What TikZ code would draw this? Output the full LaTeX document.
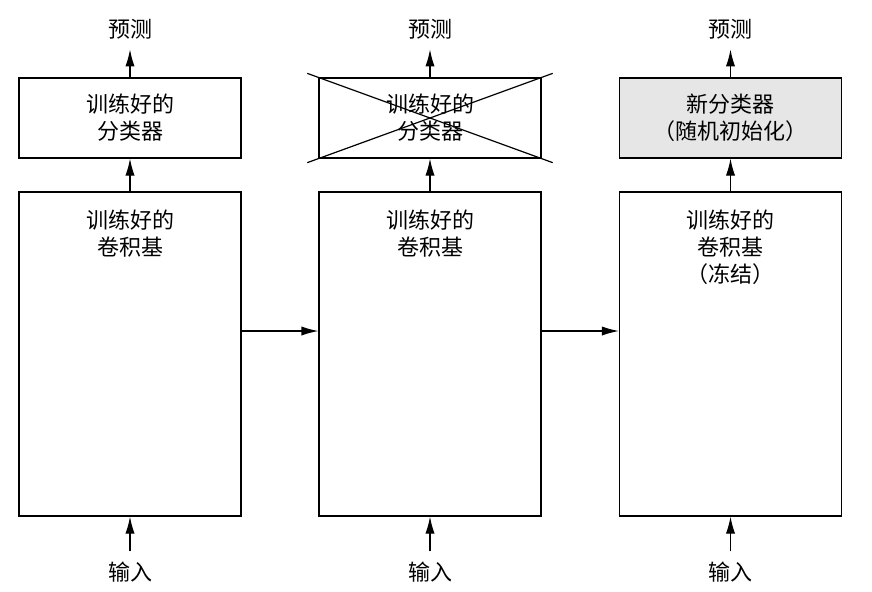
\documentclass[tikz,border=0pt]{standalone}
\usepackage{fontspec}
\newfontfamily\cjk{Noto Sans CJK SC}
\usetikzlibrary{arrows.meta,calc}
\definecolor{boxgray}{RGB}{230,230,230}
\begin{document}
\begin{tikzpicture}[x=0.5pt,y=-0.5pt,
  txt/.style={font=\cjk\fontsize{11}{13.5}\selectfont,align=center},
  box/.style={draw,line width=0.6pt,minimum width=111pt,inner sep=0pt},
  clsbox/.style={box,txt,minimum height=40pt},
  convbox/.style={box,minimum height=162pt},
  lbl/.style={txt,inner sep=5pt},
  arr/.style={-{Latex[length=8.5pt,width=4.6pt]},line width=0.6pt},
  xline/.style={line width=0.6pt}]
\useasboundingbox (0,0) rectangle (872,591);
% column 1
\node[clsbox] (k1) at (130,118) {训练好的\\分类器};
\node[convbox] (c1) at (130,354) {};
\node[txt] (t1) at (130,233.5) {训练好的\\卷积基};
\node[lbl] (p1) at (130,29) {预测};
\node[lbl] (i1) at (130,572) {输入};
% column 2
\node[clsbox] (k2) at (430,118) {训练好的\\分类器};
\node[convbox] (c2) at (430,354) {};
\node[txt] (t2) at (430,233.5) {训练好的\\卷积基};
\node[lbl] (p2) at (430,29) {预测};
\node[lbl] (i2) at (430,572) {输入};
% column 3
\node[clsbox,fill=boxgray] (k3) at (730.5,118) {新分类器\\（随机初始化）};
\node[convbox] (c3) at (730.5,354) {};
\node[txt] (t3) at (730.5,247) {训练好的\\卷积基\\（冻结）};
\node[lbl] (p3) at (730.5,29) {预测};
\node[lbl] (i3) at (730.5,572) {输入};
% cross
\draw[xline] ($(k2.north west)!-0.05!(k2.south east)$) -- ($(k2.south east)!-0.05!(k2.north west)$);
\draw[xline] ($(k2.south west)!-0.05!(k2.north east)$) -- ($(k2.north east)!-0.05!(k2.south west)$);
% arrows
\foreach \n in {1,2,3}{
  \draw[arr] (k\n) -- (p\n);
  \draw[arr] (c\n) -- (k\n);
  \draw[arr] (i\n) -- (c\n);
}
\draw[arr] ([yshift=11.5pt]c1.east) -- ([yshift=11.5pt]c2.west);
\draw[arr] ([yshift=11.5pt]c2.east) -- ([yshift=11.5pt]c3.west);
\end{tikzpicture}
\end{document}
